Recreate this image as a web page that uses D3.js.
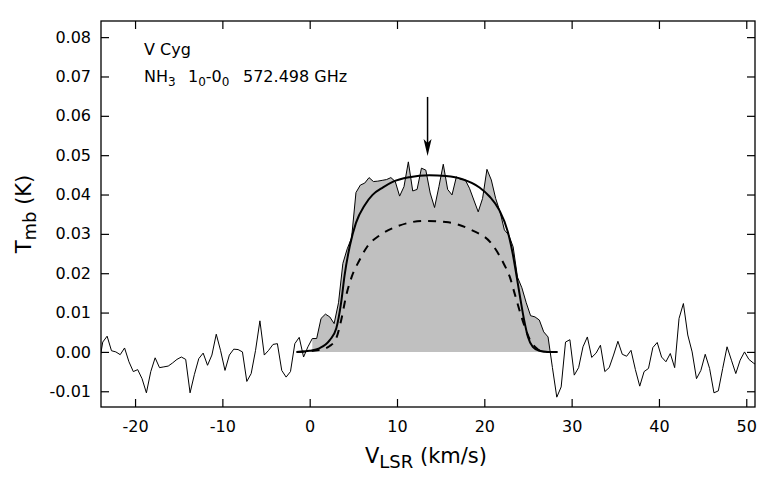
<!DOCTYPE html>
<html>
<head>
<meta charset="utf-8">
<script src="https://cdn.jsdelivr.net/npm/d3@7/dist/d3.min.js"></script>
<style>
  html, body { margin: 0; padding: 0; background: #fff; }
  svg { display: block; }
  text { font-family: "DejaVu Sans", Verdana, sans-serif; fill: #000; }
</style>
</head>
<body>
<svg id="chart" width="770" height="480"></svg>
<script>
// ---------------- data ----------------
// observed spectrum: velocity channels (km/s) and main-beam temperature (K)
const specV = [
  -24.2, -23.7, -23.2, -22.7, -22.2, -21.7, -21.2, -20.7, -20.2, -19.7,
  -19.2, -18.7, -18.2, -17.7, -17.2, -16.7, -16.2, -15.7, -15.2, -14.7,
  -14.2, -13.7, -13.2, -12.7, -12.2, -11.7, -11.2, -10.7, -10.2, -9.7,
  -9.2, -8.7, -8.2, -7.7, -7.2, -6.7, -6.2, -5.7, -5.2, -4.7,
  -4.2, -3.7, -3.2, -2.7, -2.2, -1.7, -1.2, -0.7, -0.2, 0.3,
  0.8, 1.3, 1.8, 2.3, 2.8, 3.3, 3.8, 4.3, 4.8, 5.3,
  5.8, 6.3, 6.8, 7.3, 7.8, 8.3, 8.8, 9.3, 9.8, 10.3,
  10.8, 11.3, 11.8, 12.3, 12.8, 13.3, 13.8, 14.3, 14.8, 15.3,
  15.8, 16.3, 16.8, 17.3, 17.8, 18.3, 18.8, 19.3, 19.8, 20.3,
  20.8, 21.3, 21.8, 22.3, 22.8, 23.3, 23.8, 24.3, 24.8, 25.3,
  25.8, 26.3, 26.8, 27.3, 27.8, 28.3, 28.8, 29.3, 29.8, 30.3,
  30.8, 31.3, 31.8, 32.3, 32.8, 33.3, 33.8, 34.3, 34.8, 35.3,
  35.8, 36.3, 36.8, 37.3, 37.8, 38.3, 38.8, 39.3, 39.8, 40.3,
  40.8, 41.3, 41.8, 42.3, 42.8, 43.3, 43.8, 44.3, 44.8, 45.3,
  45.8, 46.3, 46.8, 47.3, 47.8, 48.3, 48.8, 49.3, 49.8, 50.3,
  50.8, 51.3
];
const specT = [
  -0.0040, 0.0025, 0.0040, 0.0003, 0.0000, -0.0007, 0.0010, -0.0025, -0.0050, -0.0045,
  -0.0068, -0.0104, -0.0050, -0.0015, -0.0040, -0.0038, -0.0036, -0.0028, -0.0019, -0.0013,
  -0.0019, -0.0104, -0.0057, -0.0017, -0.0003, -0.0034, -0.0008, 0.0045, 0.0003, -0.0047,
  -0.0008, 0.0007, 0.0006, 0.0000, -0.0075, -0.0055, 0.0004, 0.0079, -0.0008, 0.0004,
  0.0019, 0.0021, -0.0047, -0.0064, -0.0050, 0.0021, 0.0037, -0.0013, 0.0013, 0.0034,
  0.0034, 0.0085, 0.0096, 0.0089, 0.0072, 0.0125, 0.0225, 0.0262, 0.0290, 0.0405,
  0.0424, 0.0429, 0.0443, 0.0433, 0.0434, 0.0436, 0.0438, 0.0443, 0.0433, 0.0396,
  0.0420, 0.0483, 0.0409, 0.0413, 0.0467, 0.0462, 0.0404, 0.0367, 0.0420, 0.0477,
  0.0413, 0.0399, 0.0445, 0.0438, 0.0438, 0.0416, 0.0386, 0.0356, 0.0390, 0.0464,
  0.0437, 0.0390, 0.0356, 0.0310, 0.0297, 0.0267, 0.0190, 0.0163, 0.0125, 0.0092,
  0.0089, 0.0081, 0.0051, 0.0038, -0.0040, -0.0115, -0.0089, 0.0025, 0.0031, -0.0059,
  -0.0040, 0.0013, 0.0038, -0.0014, -0.0003, 0.0017, -0.0050, -0.0040, -0.0008, 0.0027,
  -0.0006, -0.0011, 0.0004, -0.0045, -0.0087, -0.0050, -0.0042, 0.0011, 0.0024, -0.0013,
  -0.0025, -0.0004, -0.0040, 0.0085, 0.0123, 0.0043, 0.0000, -0.0068, -0.0047, -0.0006,
  -0.0042, -0.0104, -0.0099, -0.0042, 0.0013, -0.0021, -0.0055, -0.0021, 0.0000, -0.0019,
  -0.0028, -0.0035
];
// velocity window of the shaded (integrated) emission
const fillWindow = [0.3, 27.5];

// model profile 1 (solid)
const modelSolidV = [-1.5, 0.0, 1.1, 2.3, 3.05, 3.6, 4.0, 4.6, 5.3, 6.3, 7.2, 8.4, 9.5, 11.4,
  13.7, 15.6, 17.5, 19.45, 20.6, 21.7, 22.7, 23.25, 23.7, 24.15, 24.55, 25.0, 25.55, 26.3, 27.3, 28.4];
const modelSolidT = [0.0000, 0.0003, 0.0009, 0.0030, 0.0060, 0.0125, 0.0195, 0.0270, 0.0328, 0.0373,
  0.0399, 0.0418, 0.0432, 0.0444, 0.0449, 0.0447, 0.0439, 0.0418, 0.0395, 0.0361, 0.0305, 0.0250,
  0.0192, 0.0132, 0.0082, 0.0038, 0.0013, 0.0003, 0.0000, 0.0000];

// model profile 2 (dashed)
const modelDashV = [-1.5, 1.1, 2.3, 3.05, 3.6, 4.2, 4.8, 5.7, 6.6, 8.0, 9.9, 13.2, 15.6, 18.5,
  20.8, 22.3, 22.9, 23.45, 24.0, 24.6, 25.2, 25.95, 26.9, 28.0];
const modelDashT = [0.0000, 0.0005, 0.0015, 0.0035, 0.0080, 0.0145, 0.0190, 0.0233, 0.0268, 0.0296,
  0.0318, 0.0333, 0.0330, 0.0310, 0.0276, 0.0221, 0.0192, 0.0150, 0.0108, 0.0066, 0.0032, 0.0010,
  0.0000, 0.0000];

// axis ticks
const xTicks = [-20, -10, 0, 10, 20, 30, 40, 50];
const yTicks = [-0.01, 0.00, 0.01, 0.02, 0.03, 0.04, 0.05, 0.06, 0.07, 0.08];
const xDomain = [-23.9, 51.0];
const yDomain = [-0.014, 0.0841];

// annotation arrow (velocity, from T, to T)
const arrowV = 13.5;
const arrowT = [0.0648, 0.0498];

// texts
const sourceName = "V Cyg";
const lineLabel = { mol: "NH", molSub: "3", up: "1", upSub: "0", low: "-0", lowSub: "0", freq: "572.498 GHz" };

// ---------------- drawing ----------------
const svg = d3.select("#chart");
const plot = { left: 101, right: 755, top: 21, bottom: 407 };

const x = d3.scaleLinear().domain(xDomain).range([plot.left, plot.right]);
const y = d3.scaleLinear().domain(yDomain).range([plot.bottom, plot.top]);

const defs = svg.append("defs");
defs.append("clipPath").attr("id", "plotClip")
  .append("rect")
  .attr("x", plot.left).attr("y", plot.top)
  .attr("width", plot.right - plot.left).attr("height", plot.bottom - plot.top);
defs.append("clipPath").attr("id", "fillClip")
  .append("rect")
  .attr("x", x(fillWindow[0])).attr("y", plot.top)
  .attr("width", x(fillWindow[1]) - x(fillWindow[0])).attr("height", plot.bottom - plot.top);

const spec = specV.map((v, i) => ({ v, t: specT[i] }));
const solid = modelSolidV.map((v, i) => ({ v, t: modelSolidT[i] }));
const dash = modelDashV.map((v, i) => ({ v, t: modelDashT[i] }));

const g = svg.append("g").attr("clip-path", "url(#plotClip)");

// shaded emission
g.append("g").attr("clip-path", "url(#fillClip)")
  .append("path")
  .datum(spec)
  .attr("fill", "#c0c0c0")
  .attr("stroke", "none")
  .attr("d", d3.area().x(d => x(d.v)).y0(y(0)).y1(d => y(d.t)));

// spectrum line
g.append("path")
  .datum(spec)
  .attr("fill", "none")
  .attr("stroke", "#000")
  .attr("stroke-width", 1)
  .attr("stroke-linejoin", "round")
  .attr("d", d3.line().x(d => x(d.v)).y(d => y(d.t)));

const smooth = d3.line().x(d => x(d.v)).y(d => y(d.t)).curve(d3.curveMonotoneX);

// dashed model
g.append("path")
  .datum(dash)
  .attr("fill", "none")
  .attr("stroke", "#000")
  .attr("stroke-width", 2)
  .attr("stroke-dasharray", "8,7")
  .attr("d", smooth);

// solid model
g.append("path")
  .datum(solid)
  .attr("fill", "none")
  .attr("stroke", "#000")
  .attr("stroke-width", 2)
  .attr("d", smooth);

// arrow
const ax = x(arrowV), ay0 = y(arrowT[0]), ay1 = y(arrowT[1]);
svg.append("line")
  .attr("x1", ax).attr("x2", ax).attr("y1", ay0).attr("y2", ay1 - 10)
  .attr("stroke", "#000").attr("stroke-width", 1.5);
svg.append("path")
  .attr("d", `M${ax},${ay1} L${ax - 4},${ay1 - 17} L${ax},${ay1 - 13} L${ax + 4},${ay1 - 17} Z`)
  .attr("fill", "#000");

// axes (ticks inward on all four sides); plain hyphen for negatives
const hyph = f => d => f(d).replace("\u2212", "-");
const tickLen = 8;
const axB = svg.append("g").attr("transform", `translate(0,${plot.bottom})`)
  .call(d3.axisBottom(x).tickValues(xTicks).tickSize(-tickLen).tickPadding(14).tickFormat(hyph(d3.format("d"))));
const axT = svg.append("g").attr("transform", `translate(0,${plot.top})`)
  .call(d3.axisTop(x).tickValues(xTicks).tickSize(-tickLen).tickFormat(""));
const axL = svg.append("g").attr("transform", `translate(${plot.left},0)`)
  .call(d3.axisLeft(y).tickValues(yTicks).tickSize(-tickLen).tickPadding(10).tickFormat(hyph(d3.format(".2f"))));
const axR = svg.append("g").attr("transform", `translate(${plot.right},0)`)
  .call(d3.axisRight(y).tickValues(yTicks).tickSize(-tickLen).tickFormat(""));

[axB, axT, axL, axR].forEach(a => {
  a.select(".domain").remove();
  a.selectAll(".tick line").attr("stroke", "#000").attr("stroke-width", 1.2);
  a.selectAll(".tick text").attr("font-size", 16).attr("font-family", "DejaVu Sans, sans-serif").attr("fill", "#000");
});

// frame
svg.append("rect")
  .attr("x", plot.left).attr("y", plot.top)
  .attr("width", plot.right - plot.left).attr("height", plot.bottom - plot.top)
  .attr("fill", "none").attr("stroke", "#000").attr("stroke-width", 1.3);

// labels inside plot
svg.append("text").attr("x", 144).attr("y", 55).attr("font-size", 16).text(sourceName);

const lt = svg.append("text").attr("x", 144).attr("y", 82).attr("font-size", 16);
lt.append("tspan").text(lineLabel.mol);
lt.append("tspan").attr("font-size", 12).attr("dy", 4).text(lineLabel.molSub);
lt.append("tspan").attr("x", 188).attr("dy", -4).text(lineLabel.up);
lt.append("tspan").attr("font-size", 12).attr("dy", 4).text(lineLabel.upSub);
lt.append("tspan").attr("dy", -4).text(lineLabel.low);
lt.append("tspan").attr("font-size", 12).attr("dy", 4).text(lineLabel.lowSub);
lt.append("tspan").attr("x", 243).attr("dy", -4).text(lineLabel.freq);

// x-axis title
const xt = svg.append("text")
  .attr("x", (plot.left + plot.right) / 2 - 2).attr("y", 463)
  .attr("text-anchor", "middle").attr("font-size", 21);
xt.append("tspan").text("V");
xt.append("tspan").attr("font-size", 18).attr("dy", 5).text("LSR");
xt.append("tspan").attr("dy", -5).text(" (km/s)");

// y-axis title
const yt = svg.append("text")
  .attr("transform", `translate(31,${(plot.top + plot.bottom) / 2}) rotate(-90)`)
  .attr("text-anchor", "middle").attr("font-size", 21);
yt.append("tspan").text("T");
yt.append("tspan").attr("font-size", 18).attr("dy", 5).text("mb");
yt.append("tspan").attr("dy", -5).text(" (K)");
</script>
</body>
</html>
